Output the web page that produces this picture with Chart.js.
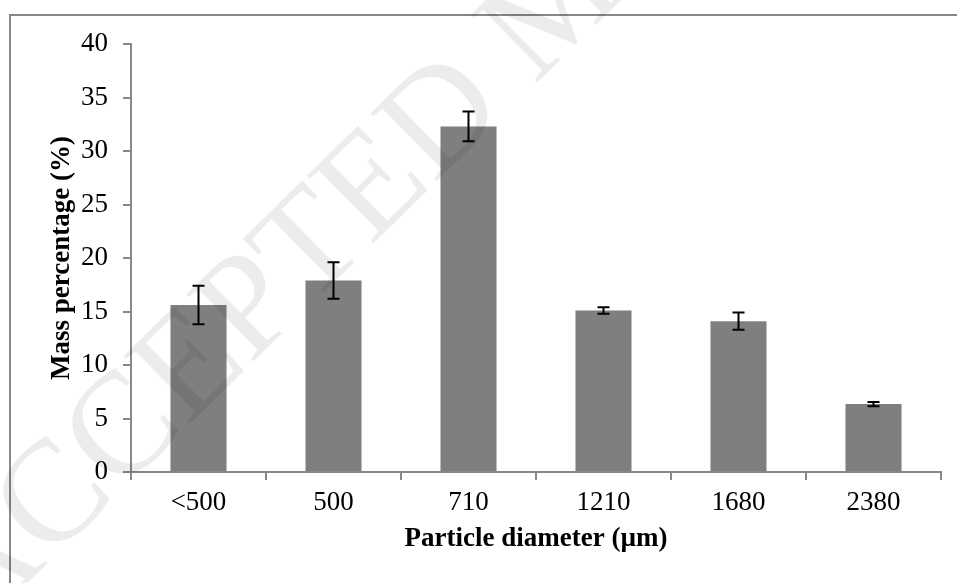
<!DOCTYPE html>
<html>
<head>
<meta charset="utf-8">
<script src="https://cdn.jsdelivr.net/npm/chart.js@4"></script>
<style>
  html, body { margin: 0; padding: 0; background: #fff; }
  #wrap { width: 957px; height: 583px; position: relative; }
</style>
</head>
<body>
<div id="wrap"><canvas id="chart"></canvas></div>
<script>
// data
const categories = ['<500', '500', '710', '1210', '1680', '2380'];
const massPercent = [15.6, 17.9, 32.3, 15.1, 14.1, 6.35];
const errors = [1.8, 1.7, 1.4, 0.3, 0.8, 0.2];
const yTicks = [0, 5, 10, 15, 20, 25, 30, 35, 40];

const axisGrey = '#888888';
const serif = '"Liberation Serif", "Times New Roman", serif';

// grey frame around the figure
const framePlugin = {
    id: 'frame',
    beforeDraw(chart) {
        const ctx = chart.ctx;
        ctx.save();
        ctx.strokeStyle = axisGrey;
        ctx.lineWidth = 2;
        ctx.strokeRect(10, 15, chart.width + 20, chart.height + 20);
        ctx.restore();
    }
};

// error bars drawn through the scales
const errorBarPlugin = {
    id: 'errorBars',
    afterDatasetsDraw(chart) {
        const ctx = chart.ctx;
        const x = chart.scales.x;
        const y = chart.scales.y;
        ctx.save();
        ctx.strokeStyle = '#000';
        ctx.lineWidth = 2;
        massPercent.forEach((v, i) => {
            const px = x.getPixelForValue(i);
            const top = y.getPixelForValue(v + errors[i]);
            const bot = y.getPixelForValue(v - errors[i]);
            ctx.beginPath();
            ctx.moveTo(px, top); ctx.lineTo(px, bot);
            ctx.moveTo(px - 6, top); ctx.lineTo(px + 6, top);
            ctx.moveTo(px - 6, bot); ctx.lineTo(px + 6, bot);
            ctx.stroke();
        });
        ctx.restore();
    }
};

// faint manuscript watermark over the chart
const watermarkPlugin = {
    id: 'watermark',
    afterDraw(chart) {
        const ctx = chart.ctx;
        ctx.save();
        ctx.translate(-26, 636);
        ctx.rotate(-44.5 * Math.PI / 180);
        ctx.font = '145px ' + serif;
        ctx.fillStyle = 'rgba(0,0,0,0.075)';
        ctx.fillText('ACCEPTED MANUSCRIPT', 0, 0);
        ctx.restore();
    }
};

const ctx = document.getElementById('chart').getContext('2d');
new Chart(ctx, {
    type: 'bar',
    data: {
        labels: categories,
        datasets: [{
            data: massPercent,
            backgroundColor: '#7f7f7f',
            categoryPercentage: 1,
            barPercentage: 0.415
        }]
    },
    options: {
        responsive: true,
        maintainAspectRatio: false,
        animation: false,
        layout: { padding: { left: 0, right: 16, top: 44, bottom: 0 } },
        plugins: {
            legend: { display: false },
            tooltip: { enabled: false }
        },
        scales: {
            x: {
                afterFit: (scale) => { scale.height = 111; },
                grid: { drawOnChartArea: false, tickLength: 8, color: axisGrey, lineWidth: 2 },
                border: { color: axisGrey, width: 2 },
                ticks: {
                    color: '#000',
                    padding: 7,
                    font: { family: serif, size: 27 }
                },
                title: {
                    display: true,
                    text: 'Particle diameter (µm)',
                    color: '#000',
                    padding: { top: 0, bottom: 28 },
                    font: { family: serif, size: 27, weight: 'bold' }
                }
            },
            y: {
                min: 0,
                max: 40,
                afterFit: (scale) => { scale.width = 131; },
                afterBuildTicks: (scale) => { scale.ticks = yTicks.map(v => ({ value: v })); },
                grid: { drawOnChartArea: false, tickLength: 8, color: axisGrey, lineWidth: 2 },
                border: { color: axisGrey, width: 2 },
                ticks: {
                    color: '#000',
                    padding: 15,
                    font: { family: serif, size: 27 }
                },
                title: {
                    display: true,
                    text: 'Mass percentage (%)',
                    color: '#000',
                    padding: { top: 46, bottom: 0 },
                    font: { family: serif, size: 27, weight: 'bold' }
                }
            }
        }
    },
    plugins: [framePlugin, errorBarPlugin, watermarkPlugin]
});
</script>
</body>
</html>
